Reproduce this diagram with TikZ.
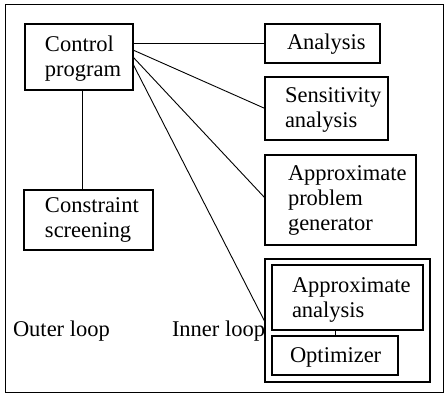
\documentclass[tikz,border=0pt]{standalone}
\usepackage{fontspec}
\setmainfont{Liberation Serif}
\tikzset{
  box/.style={draw, line width=1.2pt, rectangle, inner sep=0pt, outer sep=0pt},
  label/.style={anchor=base west, inner sep=0pt, outer sep=0pt,
    font=\fontsize{22.5}{25}\selectfont},
  link/.style={line width=0.9pt}
}
\newcommand{\boxlines}[1]{\parbox[t]{6cm}{\raggedright #1}}
\begin{document}
\begin{tikzpicture}[x=1pt,y=-1pt]
  \useasboundingbox (0,0) rectangle (445,401);
  % outer frame
  \node[box, line width=1pt, minimum width=438pt, minimum height=387pt] (frame) at (224,198.5) {};

  % boxes (centre, size)
  \node[box, minimum width=108pt, minimum height=66pt] (ctrl) at (79,57) {};
  \node[box, minimum width=115pt, minimum height=39pt] (ana)  at (322.5,43.5) {};
  \node[box, minimum width=123pt, minimum height=63pt] (sens) at (326.5,108.5) {};
  \node[box, minimum width=151pt, minimum height=90pt] (apg)  at (340.5,200) {};
  \node[box, minimum width=129pt, minimum height=60pt] (cons) at (88.5,220) {};
  \node[box, minimum width=165pt, minimum height=123pt] (inner) at (347.5,320.5) {};
  \node[box, minimum width=151pt, minimum height=65pt] (aa)   at (347.5,297.5) {};
  \node[box, minimum width=126pt, minimum height=39pt] (opt)  at (335,355.5) {};

  % texts
  \node[label] (tctrl) at (45,52)  {\boxlines{Control\\program}};
  \node[label] (tana)  at (287,50) {Analysis};
  \node[label] (tsens) at (285,103) {\boxlines{Sensitivity\\analysis}};
  \node[label] (tapg)  at (288,181) {\boxlines{Approximate\\problem\\generator}};
  \node[label] (tcons) at (45,213) {\boxlines{Constraint\\screening}};
  \node[label] (taa)   at (292,292) {\boxlines{Approximate\\analysis}};
  \node[label] (topt)  at (290,362) {Optimizer};
  \node[label] (touter) at (13,336) {Outer loop};
  \node[label] (tinner) at (172,336) {Inner loop};

  % connectors
  \draw[link] ([yshift=-19pt]ctrl.north east) -- (ctrl.north east |- ana.west) -- (ana.west);
  \draw[link] ([yshift=-26pt]ctrl.north east) -- (sens.west);
  \draw[link] ([yshift=-33pt]ctrl.north east) -- ([yshift=-43pt]apg.north west);
  \draw[link] ([yshift=-40pt]ctrl.north east) -- ([yshift=-63pt]inner.north west);
  \draw[link] ([xshift=3pt]ctrl.south) -- ([xshift=3pt]ctrl.south |- cons.north);
  \draw[link] (aa.south -| opt.north) -- (opt.north);
\end{tikzpicture}
\end{document}
